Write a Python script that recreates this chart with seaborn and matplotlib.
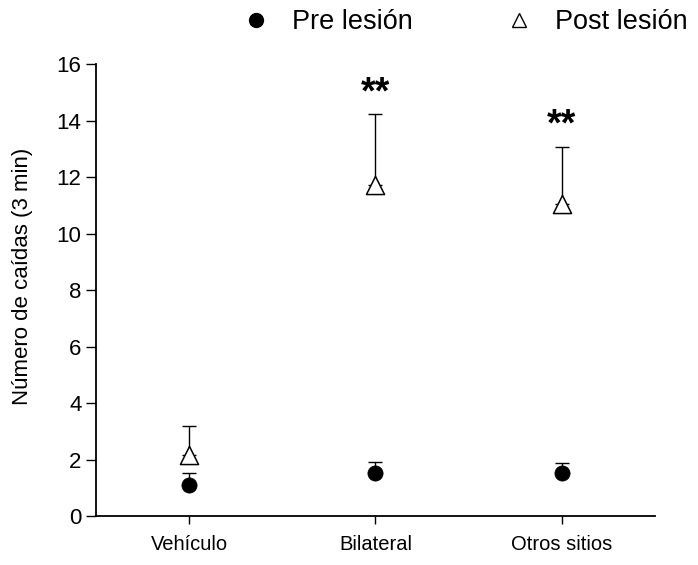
import matplotlib.pyplot as plt
import seaborn as sns
import pandas as pd

# Datos (media y error superior)
grupos = ['Vehículo', 'Bilateral', 'Otros sitios']
pre_media = [1.1, 1.52, 1.52]
pre_error = [0.42, 0.4, 0.34]
post_media = [2.15, 11.7, 11.05]
post_error = [1.05, 2.52, 2.03]
signif = ['', '**', '**']

df_pre = pd.DataFrame({'grupo': grupos, 'media': pre_media, 'error': pre_error})
df_post = pd.DataFrame({'grupo': grupos, 'media': post_media, 'error': post_error})

sns.set_style('ticks', {'text.color': 'black', 'axes.labelcolor': 'black',
                        'xtick.color': 'black', 'ytick.color': 'black',
                        'axes.edgecolor': 'black'})
plt.rcParams['font.family'] = ['Liberation Sans', 'DejaVu Sans']

fig = plt.figure(figsize=(6.98, 5.65), dpi=100)
ax = fig.add_axes([0.1375, 0.0867, 0.8009, 0.8])

# barras de error (solo hacia arriba), detrás de los marcadores
for d in (df_pre, df_post):
    ax.errorbar(range(len(d)), d['media'], yerr=[[0] * len(d), d['error']],
                fmt='none', ecolor='black', elinewidth=1, capsize=5,
                capthick=1, zorder=0.5)

sns.scatterplot(data=df_pre, x='grupo', y='media', marker='o', s=120,
                color='black', edgecolor='black', linewidth=0.5, zorder=10,
                ax=ax, legend=False)
sns.scatterplot(data=df_post, x='grupo', y='media', marker='^', s=170,
                color='white', edgecolor='black', linewidth=1.1, zorder=10,
                ax=ax, legend=False)

# asteriscos de significancia
for i, s in enumerate(signif):
    if s:
        ax.text(i, post_media[i] + post_error[i] + 0.75, s, ha='center',
                va='center', fontsize=27, fontweight='bold', color='black')

ax.set_xlim(-0.5, 2.5)
ax.set_ylim(0, 16)
ax.set_yticks(range(0, 17, 2))
ax.set_xlabel('')
ax.set_ylabel('Número de caídas (3 min)', fontsize=16)
ax.yaxis.set_label_coords(-0.113, 0.53)
ax.tick_params(axis='y', labelsize=16, length=7, width=1)
ax.tick_params(axis='x', labelsize=14.5, length=6, width=1, pad=8)
for sp in ('left', 'bottom'):
    ax.spines[sp].set_linewidth(1.3)
sns.despine(ax=ax)

h_pre = plt.Line2D([], [], marker='o', color='black', linestyle='none', markersize=10)
h_post = plt.Line2D([], [], marker='^', markerfacecolor='white',
                    markeredgecolor='black', linestyle='none', markersize=10)
fig.legend([h_pre, h_post], ['Pre lesión', 'Post lesión'], loc='center',
           bbox_to_anchor=(0.666, 0.961), ncol=2, frameon=False, fontsize=19.5,
           handlelength=1, handletextpad=0.85, columnspacing=3.4)

fig.savefig('out.png', dpi=100)
